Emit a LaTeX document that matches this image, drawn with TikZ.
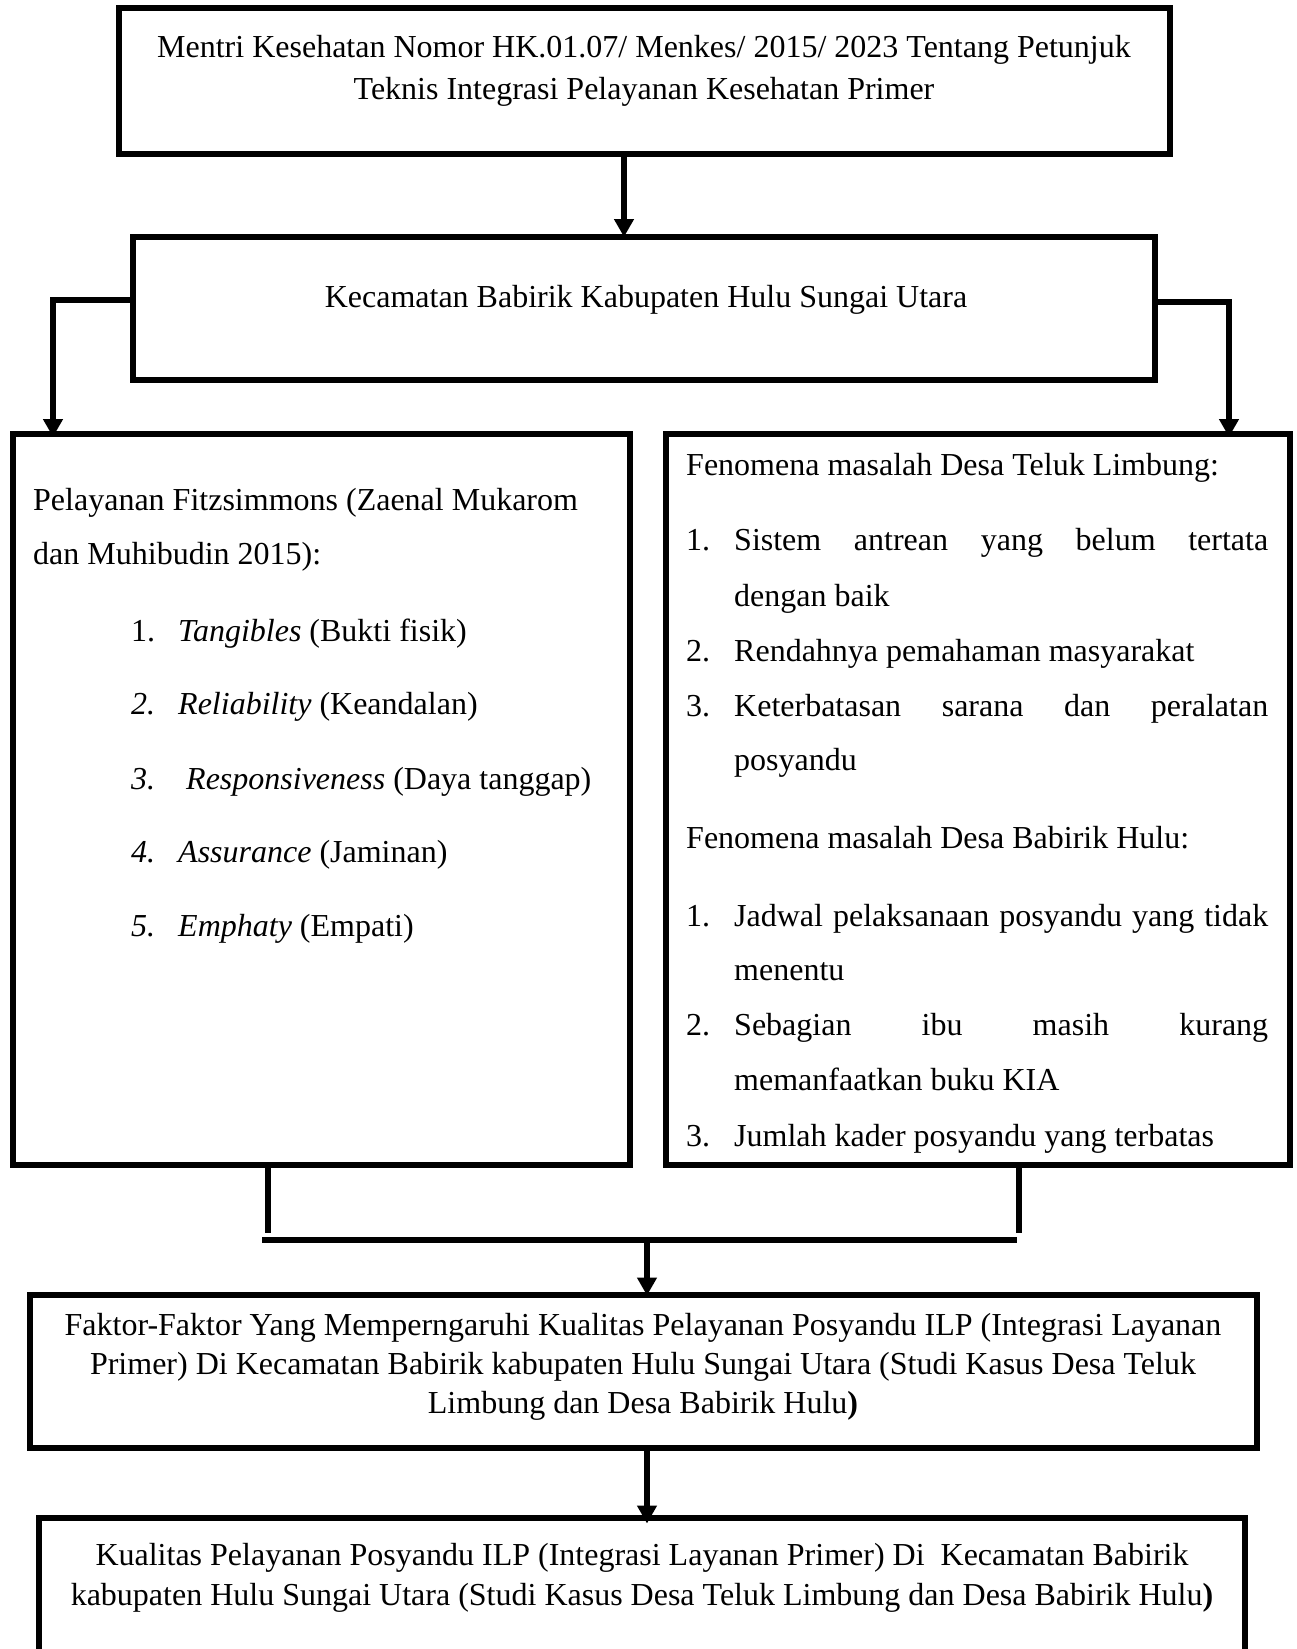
\documentclass[tikz,border=0pt]{standalone}
\usepackage{fontspec}
\setmainfont{Liberation Serif}
\usetikzlibrary{arrows.meta}
\begin{document}
\begin{tikzpicture}[x=1pt,y=-1pt,
  box/.style={draw,line width=6pt,rectangle,inner sep=0pt},
  conn/.style={line width=6pt},
  arr/.style={line width=6pt,-{Triangle[width=19pt,length=18pt]}},
  txt/.style={inner sep=0pt,font=\fontsize{32}{40}\selectfont},
  ctxt/.style={txt,anchor=base},
  ltxt/.style={txt,anchor=base west}]
\useasboundingbox (0,0) rectangle (1296,1649);
\clip (0,0) rectangle (1296,1649);
\fill[white] (0,0) rectangle (1296,1649);
% boxes
\node[box,minimum width=1051pt,minimum height=146pt] (b1) at (644.5,81) {};
\node[box,minimum width=1022pt,minimum height=143pt] (b2) at (643.5,308.5) {};
\node[box,minimum width=617pt,minimum height=731pt] (b3) at (321,799.5) {};
\node[box,minimum width=624pt,minimum height=731pt] (b4) at (977.5,799.5) {};
\node[box,minimum width=1227pt,minimum height=153pt] (b5) at (643,1371) {};
\node[box,minimum width=1206pt,minimum height=250pt,anchor=north] (b6) at (641.5,1514.5) {};
% box 1 text
\node[ctxt] (t1a) at (644,57) {Mentri Kesehatan Nomor HK.01.07/ Menkes/ 2015/ 2023 Tentang Petunjuk};
\node[ctxt] (t1b) at (644,99) {Teknis Integrasi Pelayanan Kesehatan Primer};
% box 2 text
\node[ctxt] (t2) at (646,307) {Kecamatan Babirik Kabupaten Hulu Sungai Utara};
% box 3 text
\node[ltxt] (t3a) at (33,510) {Pelayanan Fitzsimmons (Zaenal Mukarom};
\node[ltxt] (t3b) at (33,564) {dan Muhibudin 2015):};
\node[ltxt] (n31) at (131,641) {1.};
\node[ltxt] (i31) at (178,641) {\textit{Tangibles} (Bukti fisik)};
\node[ltxt] (n32) at (131,714) {\textit{2.}};
\node[ltxt] (i32) at (178,714) {\textit{Reliability} (Keandalan)};
\node[ltxt] (n33) at (131,789) {\textit{3.}};
\node[ltxt] (i33) at (186,789) {\textit{Responsiveness} (Daya tanggap)};
\node[ltxt] (n34) at (131,862) {\textit{4.}};
\node[ltxt] (i34) at (178,862) {\textit{Assurance} (Jaminan)};
\node[ltxt] (n35) at (131,936) {\textit{5.}};
\node[ltxt] (i35) at (178,936) {\textit{Emphaty} (Empati)};
% box 4 text
\node[ltxt] (h41) at (686,475) {Fenomena masalah Desa Teluk Limbung:};
\node[ltxt] (n41) at (686,550) {1.};
\node[ltxt] (i41a) at (734,550) {\makebox[534pt][s]{Sistem antrean yang belum tertata}};
\node[ltxt] (i41b) at (734,606) {dengan baik};
\node[ltxt] (n42) at (686,661) {2.};
\node[ltxt] (i42) at (734,661) {Rendahnya pemahaman masyarakat};
\node[ltxt] (n43) at (686,716) {3.};
\node[ltxt] (i43a) at (734,716) {\makebox[534pt][s]{Keterbatasan sarana dan peralatan}};
\node[ltxt] (i43b) at (734,770) {posyandu};
\node[ltxt] (h42) at (686,848) {Fenomena masalah Desa Babirik Hulu:};
\node[ltxt] (n44) at (686,926) {1.};
\node[ltxt] (i44a) at (734,926) {\makebox[534pt][s]{Jadwal pelaksanaan posyandu yang tidak}};
\node[ltxt] (i44b) at (734,980) {menentu};
\node[ltxt] (n45) at (686,1035) {2.};
\node[ltxt] (i45a) at (734,1035) {\makebox[534pt][s]{Sebagian ibu masih kurang}};
\node[ltxt] (i45b) at (734,1090) {memanfaatkan buku KIA};
\node[ltxt] (n46) at (686,1146) {3.};
\node[ltxt] (i46) at (734,1146) {Jumlah kader posyandu yang terbatas};
% box 5 text
\node[ctxt] (t5a) at (643,1335) {Faktor-Faktor Yang Memperngaruhi Kualitas Pelayanan Posyandu ILP (Integrasi Layanan};
\node[ctxt] (t5b) at (643,1374) {Primer) Di Kecamatan Babirik kabupaten Hulu Sungai Utara (Studi Kasus Desa Teluk};
\node[ctxt] (t5c) at (643,1413) {Limbung dan Desa Babirik Hulu\textbf{)}};
% box 6 text
\node[ctxt] (t6a) at (642,1565) {Kualitas Pelayanan Posyandu ILP (Integrasi Layanan Primer) Di\ \ Kecamatan Babirik};
\node[ctxt] (t6b) at (642,1605) {kabupaten Hulu Sungai Utara (Studi Kasus Desa Teluk Limbung dan Desa Babirik Hulu\textbf{)}};
% connectors
\coordinate (a1) at (624,0);
\draw[arr] (b1.south -| a1) -- ([yshift=-3pt]b2.north -| a1);
\coordinate (lc) at (53,300);
\coordinate (rc) at (1229,302);
\draw[arr] (b2.west |- lc) -- (lc) -- ([yshift=-6pt]lc |- b3.north);
\draw[arr] (b2.east |- rc) -- (rc) -- ([yshift=-6pt]rc |- b4.north);
\coordinate (jl) at (268,1233);
\coordinate (jr) at (1019,1233);
\coordinate (jm) at (647,1240);
\draw[conn] (b3.south -| jl) -- (jl);
\draw[conn] (b4.south -| jr) -- (jr);
\draw[line width=6pt] (262,1240) -- (1017,1240);
\draw[arr] (jm) -- ([yshift=-4pt]jm |- b5.north);
\coordinate (a2) at (647,0);
\draw[arr] (b5.south -| a2) -- ([yshift=-9pt]b6.north -| a2);
\end{tikzpicture}
\end{document}
